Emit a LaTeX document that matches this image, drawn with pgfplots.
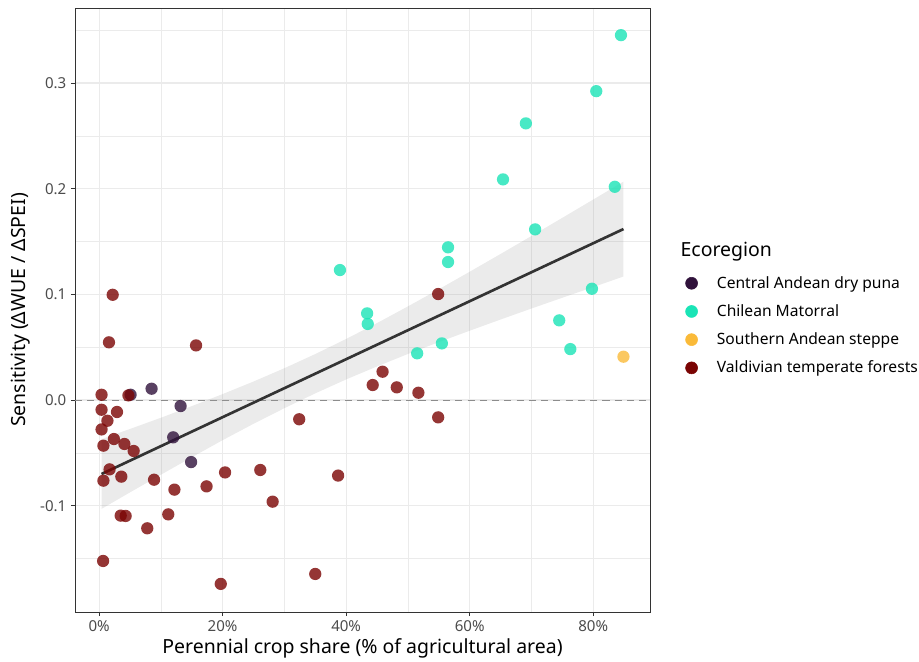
\documentclass[border=0pt]{standalone}
\usepackage{fontspec}
\setmainfont{Noto Sans}
\usepackage{pgfplots}
\pgfplotsset{compat=1.18}
\definecolor{cpuna}{HTML}{30123B}
\definecolor{cmato}{HTML}{1AE4B6}
\definecolor{cstep}{HTML}{FABA39}
\definecolor{cvald}{HTML}{7A0403}
\definecolor{gridc}{HTML}{EBEBEB}
\begin{document}
\begin{tikzpicture}
\begin{axis}[
  width=431.25pt, height=453pt, scale only axis,
  xmin=-3.9, xmax=89.2, ymin=-0.2006, ymax=0.371,
  xtick={0,20,40,60,80}, xticklabels={0\%,20\%,40\%,60\%,80\%},
  ytick={-0.1,0,0.1,0.2,0.3}, yticklabels={-0.1,0.0,0.1,0.2,0.3},
  minor xtick={10,30,50,70}, minor ytick={-0.15,-0.05,0.05,0.15,0.25,0.35},
  grid=both,
  major grid style={gridc, line width=0.8pt},
  minor grid style={gridc, line width=0.4pt},
  axis line style={black!80, line width=0.5pt},
  tick align=outside, major tick length=3pt, minor tick length=0pt,
  tick style={black!80, line width=0.5pt},
  xtick pos=bottom, ytick pos=left,
  ticklabel style={font=\fontsize{11.3}{13}\selectfont, text=black!70},
  xlabel={Perennial crop share (\% of agricultural area)},
  ylabel={Sensitivity (ΔWUE / ΔSPEI)},
  label style={font=\fontsize{14.6}{17}\selectfont},
  xlabel style={at={(axis description cs:0.5,-0.0596)}, anchor=center},
  ylabel style={at={(axis description cs:-0.094,0.5)}, anchor=center},
  legend style={at={(axis description cs:1.054,0.565)}, anchor=north west, draw=none, fill=none,
    font=\fontsize{11.7}{13}\selectfont, row sep=6.75pt},
  legend cell align=left,
  clip=false,
]
\addlegendimage{legend image code/.code={\path[draw=none,fill=none] (-4.5pt,-0.1pt) rectangle (17pt,0.1pt); \fill[cpuna] (0,0) circle (4.5pt);}}
\addlegendentry{Central Andean dry puna}
\addlegendimage{legend image code/.code={\path[draw=none,fill=none] (-4.5pt,-0.1pt) rectangle (17pt,0.1pt); \fill[cmato] (0,0) circle (4.5pt);}}
\addlegendentry{Chilean Matorral}
\addlegendimage{legend image code/.code={\path[draw=none,fill=none] (-4.5pt,-0.1pt) rectangle (17pt,0.1pt); \fill[cstep] (0,0) circle (4.5pt);}}
\addlegendentry{Southern Andean steppe}
\addlegendimage{legend image code/.code={\path[draw=none,fill=none] (-4.5pt,-0.1pt) rectangle (17pt,0.1pt); \fill[cvald] (0,0) circle (4.5pt);}}
\addlegendentry{Valdivian temperate forests}

\addplot[forget plot, black!45, line width=0.7pt, dash pattern=on 5.3pt off 3.9pt] coordinates {(-3.9,0) (89.2,0)};

\addplot[forget plot, only marks, mark=*, mark size=4.6pt, mark options={fill=cpuna, draw opacity=0, fill opacity=0.8}] coordinates {
(5.1,0.0050) (8.5,0.0107) (13.2,-0.0057) (12.0,-0.0353) (14.9,-0.0587)};

\addplot[forget plot, only marks, mark=*, mark size=4.6pt, mark options={fill=cmato, draw opacity=0, fill opacity=0.8}] coordinates {
(84.5,0.3453) (80.5,0.2923) (69.1,0.2618) (65.4,0.2088) (83.5,0.2018) (70.6,0.1615)
(56.5,0.1445) (56.5,0.1306) (79.8,0.1053) (74.5,0.0754) (76.3,0.0482) (55.5,0.0536)
(51.5,0.0442) (43.4,0.0820) (43.5,0.0720) (39.0,0.1230)};

\addplot[forget plot, only marks, mark=*, mark size=4.6pt, mark options={fill=cstep, draw opacity=0, fill opacity=0.8}] coordinates {
(84.9,0.041)};

\addplot[forget plot, only marks, mark=*, mark size=4.6pt, mark options={fill=cvald, draw opacity=0, fill opacity=0.8}] coordinates {
(2.2,0.0996) (1.6,0.0546) (15.7,0.0517) (0.4,0.0050) (4.75,0.0044) (0.4,-0.0092)
(2.9,-0.0113) (1.35,-0.0196) (0.4,-0.0278) (0.7,-0.0432) (2.4,-0.0369) (4.1,-0.0416)
(5.6,-0.0482) (1.7,-0.0656) (0.7,-0.0763) (3.6,-0.0725) (8.9,-0.0754) (12.2,-0.0848)
(17.4,-0.0817) (20.4,-0.0685) (26.1,-0.0662) (28.1,-0.0962) (32.4,-0.0182) (3.5,-0.1094)
(4.3,-0.1097) (11.2,-0.1082) (7.8,-0.1214) (0.65,-0.1523) (19.7,-0.1740) (35.0,-0.1646)
(38.7,-0.0715) (45.9,0.0268) (44.3,0.0142) (48.2,0.0120) (51.7,0.0069) (54.9,-0.0164)
(54.9,0.1003)};

% confidence band
\addplot[forget plot, draw=none, fill=black!40, fill opacity=0.2] coordinates {
(0.4,-0.0370) (5,-0.0274) (10,-0.0168) (15,-0.0058) (20,0.0056) (25,0.0175) (30,0.0301)
(35,0.0435) (40,0.0578) (45,0.0728) (50,0.0886) (55,0.1048) (60,0.1214) (65,0.1382)
(70,0.1552) (75,0.1724) (80,0.1897) (84.9,0.2067)
(84.9,0.1169) (80,0.1069) (75,0.0968) (70,0.0866) (65,0.0762) (60,0.0656) (55,0.0548)
(50,0.0436) (45,0.0318) (40,0.0195) (35,0.0063) (30,-0.0077) (25,-0.0225) (20,-0.0380)
(15,-0.0542) (10,-0.0707) (5,-0.0874) (0.4,-0.1030)} \closedcycle;

\addplot[forget plot, color=black!80, line width=2pt] coordinates {(0.4,-0.0700) (84.9,0.1618)};

\node[anchor=west, font=\fontsize{14.6}{17}\selectfont] at (axis description cs:1.045,0.596) {Ecoregion};
\end{axis}
\pgfresetboundingbox
\path[use as bounding box] (-56.25pt,-36.75pt) rectangle (633pt,459pt);
\end{tikzpicture}
\end{document}
